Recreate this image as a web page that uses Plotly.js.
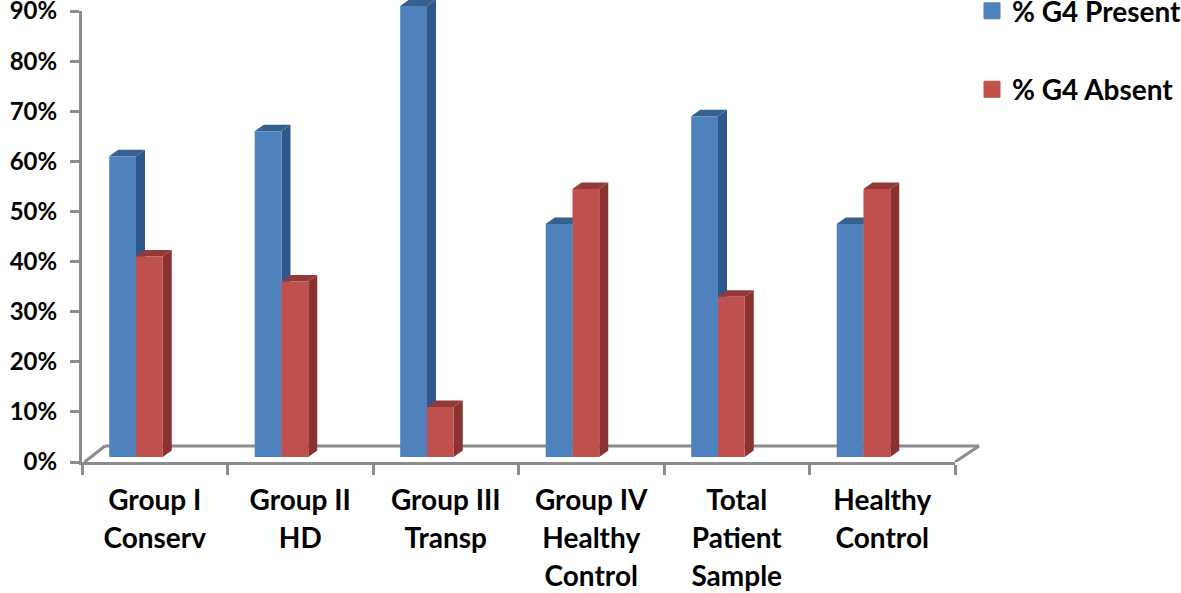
<!DOCTYPE html>
<html><head><meta charset="utf-8">
<script src="https://cdn.plot.ly/plotly-3.0.1.min.js"></script>
<style>html,body{margin:0;padding:0;background:#fff}</style></head>
<body><div id="chart" style="width:1181px;height:593px"></div>
<script>
const categories = ['Group I<br>Conserv','Group II<br>HD','Group III<br>Transp','Group IV<br>Healthy<br>Control','Total<br>Patient<br>Sample','Healthy<br>Control'];
const g4Present = [60,65,90,46.5,68,46.5];
const g4Absent = [40,35,10,53.5,32,53.5];
const yTicks = [0,10,20,30,40,50,60,70,80,90];
const FONT = 'Lato, sans-serif';
const labelSize = 28;
const labels = categories.map(c => c.split('<br>').map(l => `<span style="font-size:${labelSize}px">${l}</span>`).join('<br>'));

const gap = 0.632, bw = (1-gap)/2, dX = 9/145.5, dY = 6.5/5.01;
const blue='#4f81bd', blueSide='#30578a', blueTop='#36618f', red='#c0504d', redSide='#8a3230', redTop='#933a38', axisC='#8c8c8c';
function poly(pts,color){return {type:'path',xref:'x2',yref:'y',layer:'below',fillcolor:color,line:{width:0},
  path:'M'+pts.map(p=>p[0]+','+p[1]).join('L')+'Z'};}
const shapes=[];
const floor = {type:'line',layer:'below',xref:'paper',yref:'y2',line:{color:axisC,width:3}};
shapes.push({...floor,x0:0.003,x1:23/873,y0:0,y1:3.2});
shapes.push({...floor,x0:23/873,x1:897/873,y0:3.2,y1:3.2});
shapes.push({...floor,x0:1,x1:897/873,y0:0,y1:3.2});
function faces(vals,off,side,top){
  vals.forEach((v,i)=>{
    const x0=i+off, x1=x0+bw;
    shapes.push(poly([[x1,0],[x1+dX,dY],[x1+dX,v+dY],[x1,v]],side));
    shapes.push(poly([[x0,v],[x0+dX,v+dY],[x1+dX,v+dY],[x1,v]],top));
  });
}
faces(g4Present,-bw,blueSide,blueTop);
faces(g4Absent,0,redSide,redTop);

const xs = labels;
const traces=[
 {type:'bar',name:'% G4 Present',x:xs,y:g4Present,xaxis:'x2',yaxis:'y',marker:{color:blue},showlegend:false,hoverinfo:'y'},
 {type:'bar',name:'% G4 Absent',x:xs,y:g4Absent,xaxis:'x2',yaxis:'y',marker:{color:red},showlegend:false,hoverinfo:'y'},
 {type:'scatter',mode:'markers',name:'% G4 Present',legendgroup:'a',x:[labels[0]],y:[null],xaxis:'x',yaxis:'y2',marker:{symbol:'square',size:16,color:blue,line:{width:1,color:blue}}},
 {type:'scatter',mode:'markers',name:'% G4 Absent',legendgroup:'b',x:[labels[0]],y:[null],xaxis:'x',yaxis:'y2',marker:{symbol:'square',size:16,color:red,line:{width:1,color:red}}}
];
const layout={
 width:1181,height:593,paper_bgcolor:'#fff',plot_bgcolor:'rgba(0,0,0,0)',
 margin:{l:82,r:226,t:0,b:131,pad:0,autoexpand:false},
 font:{family:FONT,color:'#000'},
 barmode:'group',bargap:gap,bargroupgap:0,shapes,
 xaxis:{type:'category',categoryorder:'array',categoryarray:labels,anchor:'y2',tickson:'boundaries',ticks:'outside',ticklen:10,tickwidth:3,tickcolor:axisC,
   showline:true,linecolor:axisC,linewidth:3,showgrid:false,zeroline:false,tickangle:0,range:[-0.5,5.5],ticklabelstandoff:10,
   tickfont:{family:FONT,size:29.2,color:'#000',weight:700}},
 xaxis2:{type:'category',categoryorder:'array',categoryarray:labels,anchor:'y',visible:false,range:[-0.371,5.629]},
 yaxis2:{domain:[0,451/462],range:[0,90],anchor:'x',tickmode:'array',tickvals:yTicks,ticktext:yTicks.map(v=>v+'%'),ticks:'outside',ticklen:9,tickwidth:3,tickcolor:axisC,
   showline:true,linecolor:axisC,linewidth:3,showgrid:false,zeroline:false,ticklabelstandoff:8,ticklabeloverflow:'allow',
   tickfont:{family:FONT,size:24,color:'#000',weight:700}},
 yaxis:{domain:[0,1],range:[-0.998,91.2],anchor:'x2',visible:false},
 legend:{x:(972-82)/873,xanchor:'left',y:1.03,yanchor:'top',tracegroupgap:39,traceorder:'grouped',itemwidth:30,
   font:{family:FONT,size:28,color:'#000',weight:700},bgcolor:'rgba(0,0,0,0)'}
};
Plotly.newPlot('chart',traces,layout,{displayModeBar:false,responsive:false});
</script></body></html>
